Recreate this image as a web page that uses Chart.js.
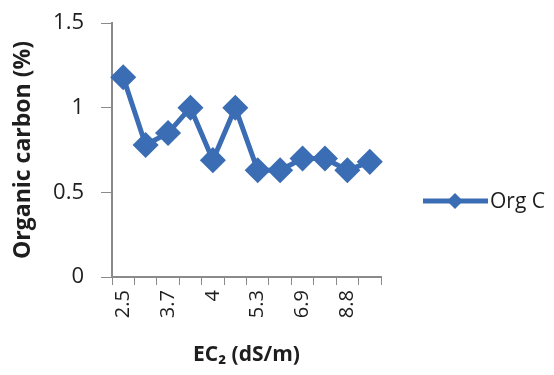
<!DOCTYPE html>
<html lang="en">
<head>
    <meta charset="UTF-8">
    <title>Organic carbon vs EC2</title>
    <script src="https://cdn.jsdelivr.net/npm/chart.js"></script>
    <style>
        html, body { margin: 0; padding: 0; background: #fff; }
        .chart-box { position: relative; width: 554px; height: 375px; }
    </style>
</head>
<body>
    <div class="chart-box">
        <canvas id="orgChart" width="554" height="375"></canvas>
    </div>

    <script>
        // categories along the x axis (only every other one is labelled in the figure)
        const ecLabels = ['2.5', '3.1', '3.7', '3.9', '4', '4.6', '5.3', '6.1', '6.9', '7.8', '8.8', '9.5'];
        // organic carbon (%)
        const orgC = [1.18, 0.78, 0.85, 1.0, 0.69, 1.0, 0.63, 0.63, 0.70, 0.70, 0.63, 0.68];
        const yTicks = [0, 0.5, 1, 1.5];

        const blue = '#3b6db4';
        const axisGrey = '#8a8a8a';
        const textCol = '#1e1e1e';
        const fontFam = "'Open Sans', 'Liberation Sans', sans-serif";

        // small legend at the right, like the spreadsheet original
        const sideLegend = {
            id: 'sideLegend',
            afterDraw(chart) {
                const c = chart.ctx;
                const y = 201;
                c.save();
                c.strokeStyle = blue;
                c.lineWidth = 5;
                c.beginPath();
                c.moveTo(423, y);
                c.lineTo(488, y);
                c.stroke();
                c.fillStyle = blue;
                c.beginPath();
                c.moveTo(455, y - 8);
                c.lineTo(463, y);
                c.lineTo(455, y + 8);
                c.lineTo(447, y);
                c.closePath();
                c.fill();
                c.fillStyle = textCol;
                c.font = '21px ' + fontFam;
                c.textBaseline = 'middle';
                c.fillText(chart.data.datasets[0].label, 490, y + 1);
                c.restore();
            }
        };

        new Chart(document.getElementById('orgChart'), {
            type: 'line',
            data: {
                labels: ecLabels,
                datasets: [{
                    label: 'Org C',
                    data: orgC,
                    borderColor: blue,
                    backgroundColor: blue,
                    borderWidth: 5,
                    pointStyle: 'rectRot',
                    pointRadius: 9.5,
                    pointHoverRadius: 9.5,
                    tension: 0,
                    fill: false
                }]
            },
            options: {
                responsive: false,
                animation: false,
                layout: { padding: { top: 23, right: 173, left: 0, bottom: 0 } },
                plugins: {
                    legend: { display: false },
                    tooltip: { enabled: false }
                },
                scales: {
                    x: {
                        type: 'category',
                        offset: true,
                        afterFit(scale) { scale.height = 98; },
                        grid: {
                            offset: true,
                            drawOnChartArea: false,
                            color: axisGrey,
                            tickLength: 8,
                            tickColor: axisGrey
                        },
                        border: { color: axisGrey, width: 2 },
                        ticks: {
                            autoSkip: false,
                            maxRotation: 90,
                            minRotation: 90,
                            padding: 5,
                            color: textCol,
                            font: { size: 20, family: fontFam },
                            callback(val, i) { return i % 2 === 0 ? ecLabels[i] : ''; }
                        },
                        title: {
                            display: true,
                            text: 'EC₂ (dS/m)',
                            color: textCol,
                            font: { size: 21, weight: 'bold', family: fontFam },
                            padding: { top: 4, bottom: 7 }
                        }
                    },
                    y: {
                        min: 0,
                        max: 1.5,
                        afterFit(scale) {
                            scale.width = 112;
                            scale.paddingTop = 0;
                            scale.paddingBottom = 0;
                        },
                        afterBuildTicks(scale) { scale.ticks = yTicks.map(v => ({ value: v })); },
                        grid: {
                            drawOnChartArea: false,
                            color: axisGrey,
                            tickLength: 11,
                            tickColor: axisGrey
                        },
                        border: { color: axisGrey, width: 2 },
                        ticks: {
                            padding: 17,
                            color: textCol,
                            font: { size: 22, family: fontFam },
                            callback(val) { return String(val); }
                        },
                        title: {
                            display: true,
                            text: 'Organic carbon (%)',
                            color: textCol,
                            font: { size: 23, weight: 'bold', family: fontFam },
                            padding: { top: 10, bottom: 4 }
                        }
                    }
                }
            },
            plugins: [sideLegend]
        });
    </script>
</body>
</html>
